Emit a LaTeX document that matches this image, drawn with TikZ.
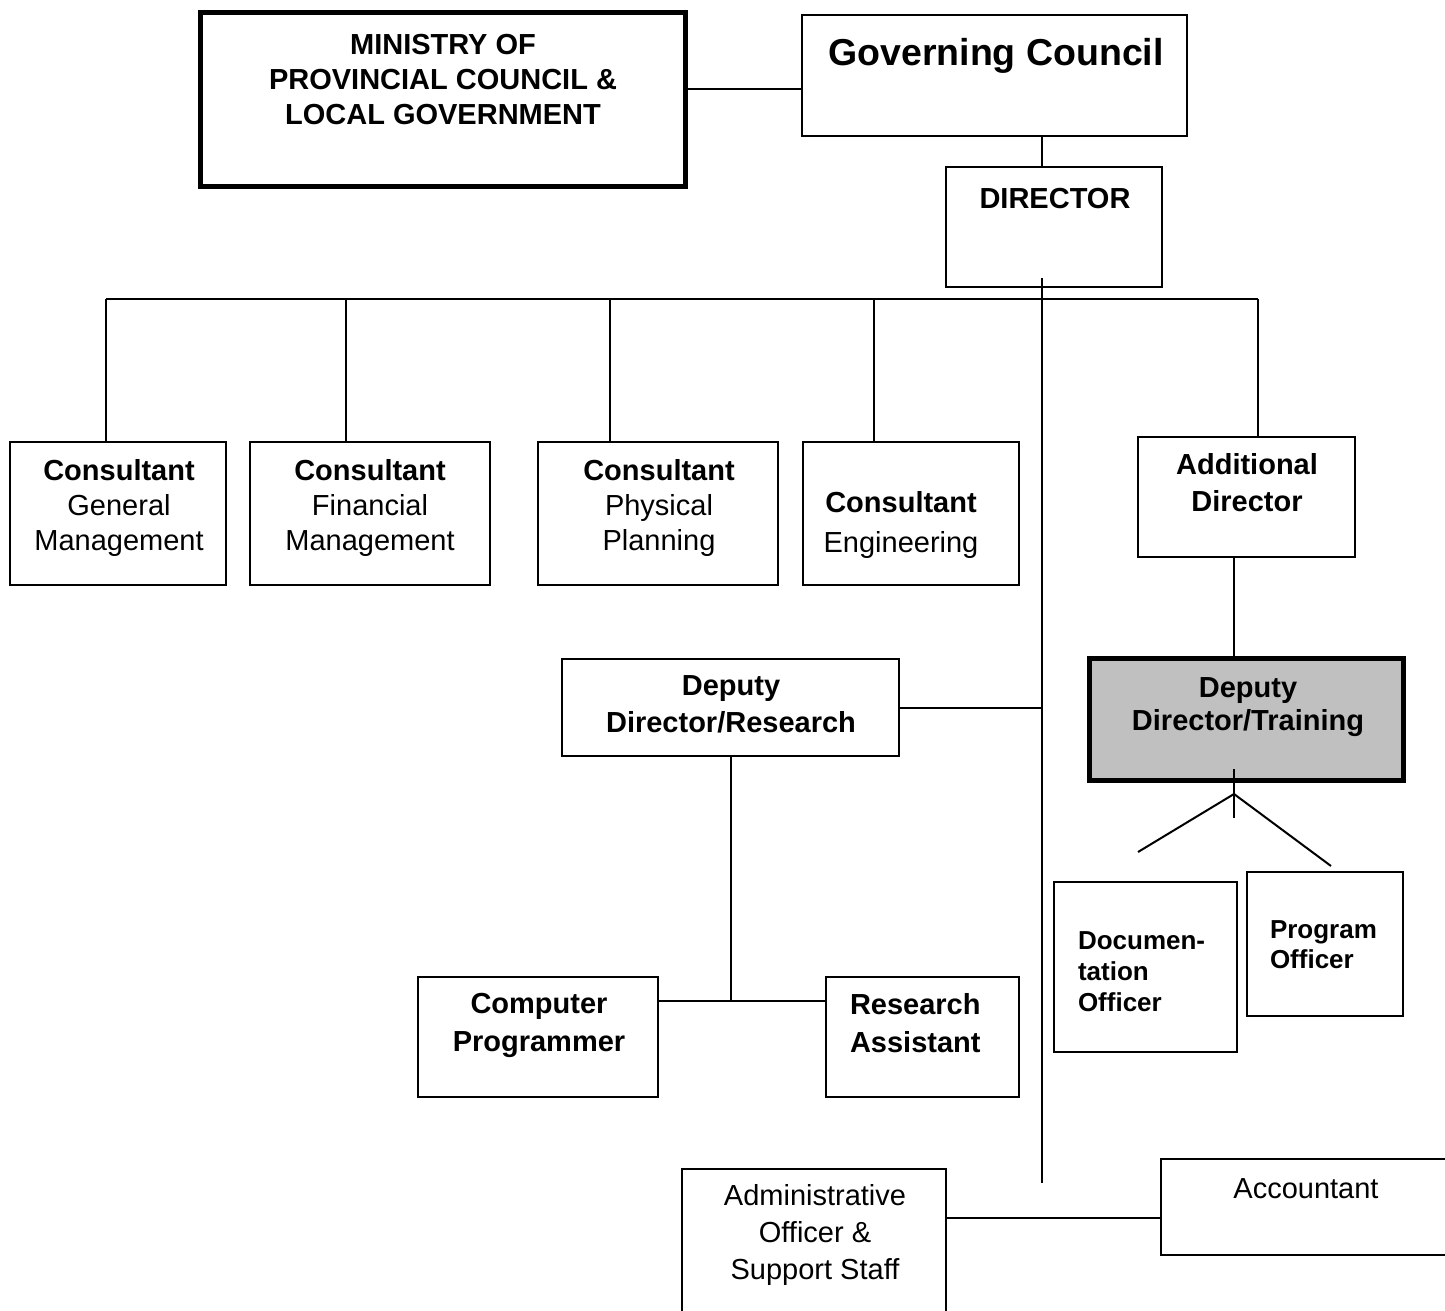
\documentclass[tikz,border=0pt]{standalone}
\usepackage{fontspec}
\setmainfont{Liberation Sans}
\usetikzlibrary{fit}
\definecolor{trainfill}{HTML}{C0C0C0}

\begin{document}
\begin{tikzpicture}
  [x=0.5pt, y=-0.5pt, line width=1pt,
   box/.style={draw, inner sep=0pt, fit={#1}},
   heavybox/.style={box={#1}, line width=2.5pt},
   lbl/.style={align=center, inner sep=0pt, anchor=north, font=\fontsize{14.5}{#1}\selectfont},
   lbl/.default=17.5,
   lblb/.style={align=center, inner sep=0pt, anchor=north, font=\fontsize{14.5}{#1}\selectfont\bfseries},
   lblb/.default=17.5,
   lbls/.style={align=left, inner sep=0pt, anchor=north west, font=\fontsize{13}{#1}\selectfont\bfseries}]
  \clip (0,0) rectangle (1445,1311);

  \node[heavybox={(200,13) (685,186)}] (min) {};
  \node[box={(802,15) (1187,136)}] (gc) {};
  \node[box={(946,167) (1162,287)}] (dir) {};
  \node[box={(10,442) (226,585)}] (cgm) {};
  \node[box={(250,442) (490,585)}] (cfm) {};
  \node[box={(538,442) (778,585)}] (cpp) {};
  \node[box={(803,442) (1019,585)}] (ceng) {};
  \node[box={(1138,437) (1355,557)}] (ad) {};
  \node[box={(562,659) (899,756)}] (ddr) {};
  \node[heavybox={(1089,658) (1403,780)}, fill=trainfill] (ddt) {};
  \node[box={(418,977) (658,1097)}] (cp) {};
  \node[box={(826,977) (1019,1097)}] (ra) {};
  \node[box={(1054,882) (1237,1052)}] (doc) {};
  \node[box={(1247,872) (1403,1016)}] (po) {};
  \node[box={(682,1169) (946,1340)}] (adm) {};
  \node[box={(1161,1159) (1480,1255)}] (acc) {};

  \node[lblb] (min-t) at (443,33) {MINISTRY OF\\PROVINCIAL COUNCIL \&\\LOCAL GOVERNMENT};
  \node[lblb, font=\fontsize{18.75}{22}\selectfont\bfseries] (gc-t) at (996,37) {Governing Council};
  \node[lblb] (dir-t) at (1055,187) {DIRECTOR};
  \node[lbl] (cgm-t) at (119,458) {\textbf{Consultant}\\General\\Management};
  \node[lbl] (cfm-t) at (370,458) {\textbf{Consultant}\\Financial\\Management};
  \node[lbl] (cpp-t) at (659,458) {\textbf{Consultant}\\Physical\\Planning};
  \node[lbl=20] (ceng-t) at (901,490) {\textbf{Consultant}\\Engineering};
  \node[lblb=18.5] (ad-t) at (1247,452) {Additional\\Director};
  \node[lblb=18.5] (ddr-t) at (731,675) {Deputy\\Director/Research};
  \node[lblb=16.5] (ddt-t) at (1248,677) {Deputy\\Director/Training};
  \node[lblb=19] (cp-t) at (539,992) {Computer\\Programmer};
  \node[lblb=19, align=left, anchor=north west] (ra-t) at (849,992) {Research\\Assistant};
  \node[lbls=15.5] (doc-t) at (1077,931) {Documen-\\tation\\Officer};
  \node[lbls=15] (po-t) at (1269,920) {Program\\Officer};
  \node[lbl=18.5] (adm-t) at (815,1183) {Administrative\\Officer \&\\Support Staff};
  \node[lbl] (acc-t) at (1306,1178) {Accountant};

  \coordinate (mg) at (0,89);
  \coordinate (trunk-top) at (1042,278);
  \coordinate (trunk) at (1042,1183);
  \coordinate (t1) at (106,299);
  \coordinate (t2) at (346,299);
  \coordinate (t3) at (610,299);
  \coordinate (t4) at (874,299);
  \coordinate (t5) at (1258,299);
  \coordinate (adt) at (1234,0);
  \coordinate (stub-top) at (1234,769);
  \coordinate (stub) at (1234,818);
  \coordinate (split) at (1234,794);
  \coordinate (sl) at (1138,852);
  \coordinate (sr) at (1331,866);
  \coordinate (rj) at (0,1001);
  \coordinate (aa) at (0,1218);

  \draw (min.east |- mg) -- (gc.west |- mg);
  \draw (gc.south -| trunk) -- (dir.north -| trunk);
  \draw (trunk-top) -- (trunk);
  \draw (t1) -- (t5);
  \draw (t1) -- (t1 |- cgm.north);
  \draw (t2) -- (t2 |- cfm.north);
  \draw (t3) -- (t3 |- cpp.north);
  \draw (t4) -- (t4 |- ceng.north);
  \draw (t5) -- (t5 |- ad.north);
  \draw (ad.south -| adt) -- (ddt.north -| adt);
  \draw (stub-top) -- (stub);
  \draw (sl) -- (split) -- (sr);
  \draw (ddr.east) -- (ddr.east -| trunk);
  \draw (ddr.south) -- (ddr.south |- rj);
  \draw (cp.east |- rj) -- (ra.west |- rj);
  \draw (adm.east |- aa) -- (acc.west |- aa);
\end{tikzpicture}
\end{document}
